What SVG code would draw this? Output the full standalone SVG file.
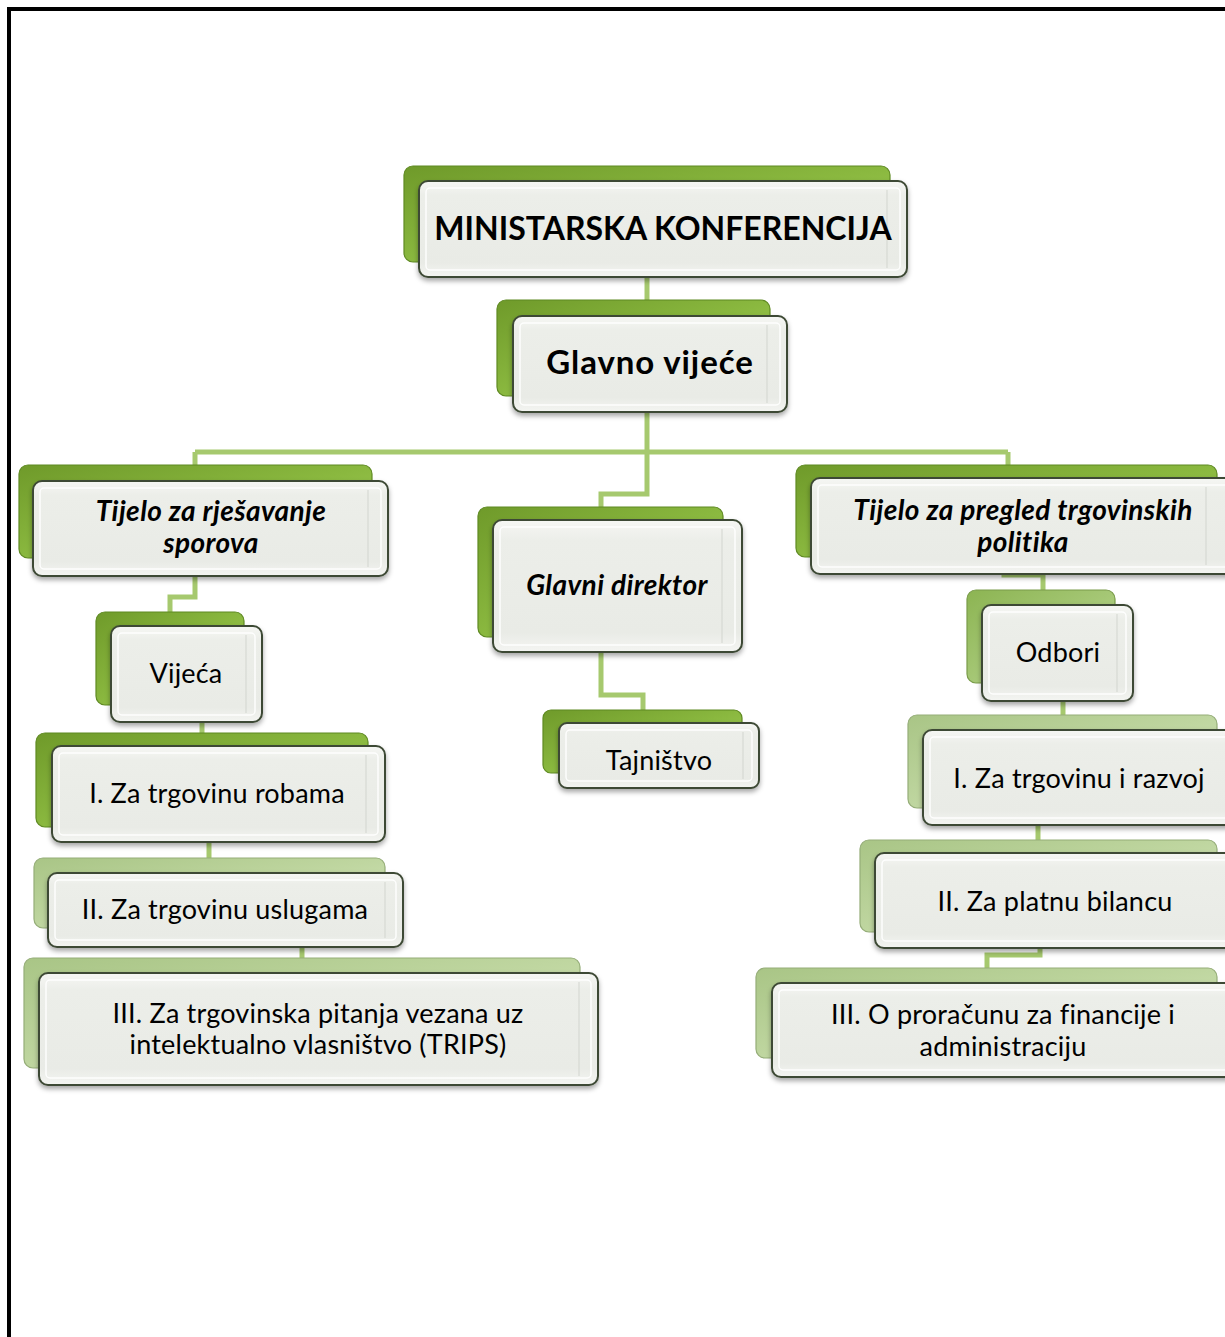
<svg xmlns="http://www.w3.org/2000/svg" width="1225" height="1337" viewBox="0 0 1225 1337">
<style>
.frame{fill:none;stroke:#000;stroke-width:4}
.conn{fill:none;stroke:#a6c96e;stroke-width:5;stroke-linejoin:miter}
.back{stroke-width:1.2}
.g1{fill:url(#gr1);stroke:#5f8a22}
.g2{fill:url(#gr2);stroke:#7a9c4a}
.g3{fill:url(#gr3);stroke:#95ad78}
.front{fill:url(#gf);stroke:#3e4a35;stroke-width:2;filter:url(#sh)}
.bevel{fill:none;stroke:#ffffff;stroke-opacity:0.9;stroke-width:1.5}
.bev2{fill:none;stroke:#d2d5cf;stroke-width:1}
.t{font-family:Lato,"Open Sans","Liberation Sans",sans-serif;fill:#000;text-anchor:middle}
.big{font-size:32px;font-weight:bold}
.gv{font-size:33px;font-weight:bold;letter-spacing:0.9px}
.bi{font-size:28px;font-weight:bold;font-style:italic;letter-spacing:0.4px}
.r{font-size:27px;letter-spacing:0.2px}
</style>
<defs>
<linearGradient id="gr1" x1="0" y1="0" x2="1" y2="1">
<stop offset="0" stop-color="#6f9a2a"/>
<stop offset="0.5" stop-color="#8ab83f"/>
<stop offset="1" stop-color="#a9d35e"/>
</linearGradient>
<linearGradient id="gr2" x1="0" y1="0" x2="1" y2="1">
<stop offset="0" stop-color="#8cb452"/>
<stop offset="0.5" stop-color="#a5c775"/>
<stop offset="1" stop-color="#c3df97"/>
</linearGradient>
<linearGradient id="gr3" x1="0" y1="0" x2="1" y2="1">
<stop offset="0" stop-color="#a9c586"/>
<stop offset="0.5" stop-color="#bfd6a0"/>
<stop offset="1" stop-color="#d6e8bf"/>
</linearGradient>
<linearGradient id="gf" x1="0" y1="0" x2="0" y2="1">
<stop offset="0" stop-color="#f6f7f4"/>
<stop offset="0.15" stop-color="#eceee9"/>
<stop offset="0.85" stop-color="#e9ebe6"/>
<stop offset="1" stop-color="#f4f5f2"/>
</linearGradient>
<filter id="sh" x="-10%" y="-10%" width="120%" height="130%">
<feDropShadow dx="0" dy="3" stdDeviation="2.5" flood-color="#000" flood-opacity="0.35"/>
</filter>
</defs>

<rect class="frame" x="9" y="9" width="1240" height="1360"/>

<g id="connectors">
<path class="conn" d="M647 277 V316"/>
<path class="conn" d="M647 412 V452"/>
<path class="conn" d="M195 452 H1008"/>
<path class="conn" d="M195 452 V466"/>
<path class="conn" d="M1008 452 V466"/>
<path class="conn" d="M647 452 V494 H601 V508"/>
<path class="conn" d="M195 576 V597 H170 V612"/>
<path class="conn" d="M202 722 V734"/>
<path class="conn" d="M209 842 V858"/>
<path class="conn" d="M302 947 V959"/>
<path class="conn" d="M601 652 V695 H643 V710"/>
<path class="conn" d="M1004 570 V575 H1043 V591"/>
<path class="conn" d="M1063 701 V716"/>
<path class="conn" d="M1038 825 V841"/>
<path class="conn" d="M1040 948 V955 H987 V969"/>
</g>

<g id="n-ministarska">
<rect class="back g1" x="404" y="166" width="486" height="96" rx="9"/>
<rect class="front" x="419" y="181" width="488" height="96" rx="9"/>
<rect class="bevel" x="426" y="188" width="474" height="82" rx="4"/>
<path class="bev2" d="M887 190 V268"/>
<text class="t big" x="663" y="240">MINISTARSKA KONFERENCIJA</text>
</g>

<g id="n-glavno-vijece">
<rect class="back g1" x="497" y="300" width="273" height="96" rx="9"/>
<rect class="front" x="513" y="316" width="274" height="96" rx="9"/>
<rect class="bevel" x="520" y="323" width="260" height="82" rx="4"/>
<path class="bev2" d="M767 325 V403"/>
<text class="t gv" x="650" y="374">Glavno vijeće</text>
</g>

<g id="n-rjesavanje">
<rect class="back g1" x="19" y="465" width="353" height="93" rx="9"/>
<rect class="front" x="33" y="481" width="355" height="95" rx="9"/>
<rect class="bevel" x="40" y="488" width="341" height="81" rx="4"/>
<path class="bev2" d="M368 490 V567"/>
<text class="t bi" x="211" y="521">Tijelo za rješavanje</text>
<text class="t bi" x="211" y="553">sporova</text>
</g>

<g id="n-glavni-direktor">
<rect class="back g1" x="478" y="507" width="245" height="130" rx="9"/>
<rect class="front" x="493" y="520" width="249" height="132" rx="9"/>
<rect class="bevel" x="500" y="527" width="235" height="118" rx="4"/>
<path class="bev2" d="M722 529 V643"/>
<text class="t bi" x="617" y="595">Glavni direktor</text>
</g>

<g id="n-pregled">
<rect class="back g1" x="796" y="465" width="421" height="92" rx="9"/>
<rect class="front" x="811" y="478" width="430" height="96" rx="9"/>
<rect class="bevel" x="818" y="485" width="416" height="82" rx="4"/>
<path class="bev2" d="M1206 487 V565"/>
<text class="t bi" x="1023" y="520">Tijelo za pregled trgovinskih</text>
<text class="t bi" x="1023" y="552">politika</text>
</g>

<g id="n-vijeca">
<rect class="back g1" x="96" y="612" width="148" height="93" rx="9"/>
<rect class="front" x="111" y="626" width="151" height="96" rx="9"/>
<rect class="bevel" x="118" y="633" width="137" height="82" rx="4"/>
<path class="bev2" d="M246 635 V713"/>
<text class="t r" x="186" y="683">Vijeća</text>
</g>

<g id="n-tajnistvo">
<rect class="back g1" x="543" y="710" width="199" height="63" rx="8"/>
<rect class="front" x="559" y="723" width="200" height="65" rx="8"/>
<rect class="bevel" x="566" y="730" width="186" height="51" rx="4"/>
<path class="bev2" d="M743 732 V779"/>
<text class="t r" x="659" y="770">Tajništvo</text>
</g>

<g id="n-odbori">
<rect class="back g2" x="967" y="590" width="148" height="93" rx="9"/>
<rect class="front" x="982" y="605" width="151" height="96" rx="9"/>
<rect class="bevel" x="989" y="612" width="137" height="82" rx="4"/>
<path class="bev2" d="M1117 614 V692"/>
<text class="t r" x="1058" y="662">Odbori</text>
</g>

<g id="n-robama">
<rect class="back g1" x="36" y="733" width="332" height="94" rx="9"/>
<rect class="front" x="52" y="746" width="333" height="96" rx="9"/>
<rect class="bevel" x="59" y="753" width="319" height="82" rx="4"/>
<path class="bev2" d="M366 755 V833"/>
<text class="t r" x="217" y="803">I. Za trgovinu robama</text>
</g>

<g id="n-razvoj">
<rect class="back g3" x="908" y="715" width="309" height="93" rx="9"/>
<rect class="front" x="923" y="730" width="318" height="95" rx="9"/>
<rect class="bevel" x="930" y="737" width="304" height="81" rx="4"/>
<text class="t r" x="1079" y="788">I. Za trgovinu i razvoj</text>
</g>

<g id="n-uslugama">
<rect class="back g3" x="34" y="858" width="351" height="70" rx="9"/>
<rect class="front" x="48" y="873" width="355" height="74" rx="9"/>
<rect class="bevel" x="55" y="880" width="341" height="60" rx="4"/>
<path class="bev2" d="M385 882 V938"/>
<text class="t r" x="225" y="919">II. Za trgovinu uslugama</text>
</g>

<g id="n-bilancu">
<rect class="back g3" x="860" y="840" width="357" height="92" rx="9"/>
<rect class="front" x="875" y="853" width="366" height="95" rx="9"/>
<rect class="bevel" x="882" y="860" width="352" height="81" rx="4"/>
<text class="t r" x="1055" y="911">II. Za platnu bilancu</text>
</g>

<g id="n-trips">
<rect class="back g3" x="24" y="958" width="556" height="110" rx="9"/>
<rect class="front" x="39" y="973" width="559" height="112" rx="9"/>
<rect class="bevel" x="46" y="980" width="545" height="98" rx="4"/>
<path class="bev2" d="M579 982 V1076"/>
<text class="t r" x="318" y="1023">III. Za trgovinska pitanja vezana uz</text>
<text class="t r" x="318" y="1054">intelektualno vlasništvo (TRIPS)</text>
</g>

<g id="n-proracun">
<rect class="back g3" x="756" y="968" width="461" height="90" rx="9"/>
<rect class="front" x="772" y="983" width="469" height="94" rx="9"/>
<rect class="bevel" x="779" y="990" width="455" height="80" rx="4"/>
<text class="t r" x="1003" y="1024">III. O proračunu za financije i</text>
<text class="t r" x="1003" y="1056">administraciju</text>
</g>
</svg>
